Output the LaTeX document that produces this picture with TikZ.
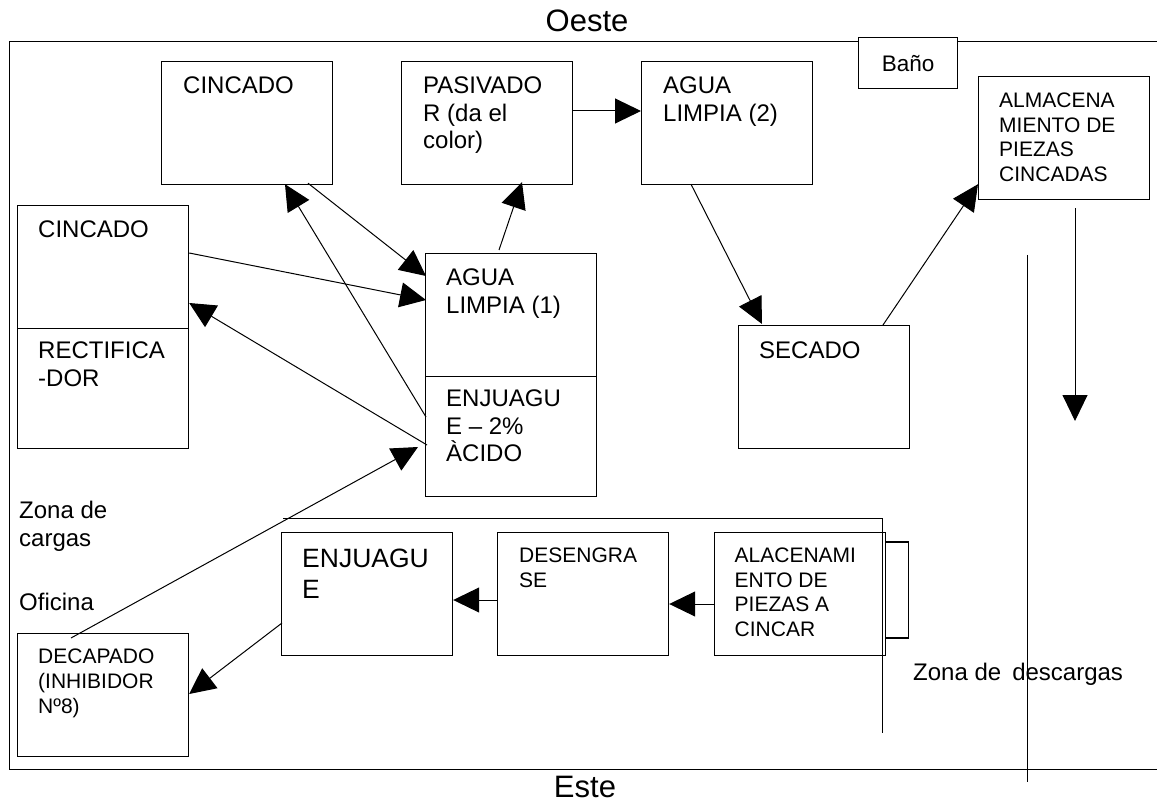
\documentclass[tikz,border=0pt]{standalone}
\usepackage{fontspec}
\setmainfont{Liberation Sans}
\usetikzlibrary{arrows.meta,calc}
\tikzset{
  box/.style={draw, line width=1.2pt, anchor=north west, inner sep=0pt, minimum width=171pt, minimum height=123pt},
  txt/.style={anchor=north west, inner sep=0pt, align=left, font=\fontsize{24}{27.5}\selectfont},
  smalltxt/.style={txt, font=\fontsize{21}{24.5}\selectfont},
  bigtxt/.style={txt, font=\fontsize{26.5}{30.5}\selectfont},
  titletxt/.style={anchor=base, inner sep=0pt, font=\fontsize{31}{35}\selectfont},
  arr/.style={line width=1pt, -{Triangle[length=26pt,width=25pt]}},
  wall/.style={line width=1pt}
}
\begin{document}
\begin{tikzpicture}[x=1pt,y=-1pt]
\useasboundingbox (0,0) rectangle (1157,805);
% frame
\draw[line width=1.2pt] (1157,41.7) -- (9.6,41.7) -- (9.6,769.3) -- (1157,769.3);
\node[titletxt] (oeste) at (587,32) {Oeste};
\node[titletxt] (este) at (585,797.5) {Este};
% boxes
\node[box] (cincTop) at (161,61) {};
\node[box] (pasiv) at (401,61) {};
\node[box] (agua2) at (641,61) {};
\node[box, fill=white, minimum width=99pt, minimum height=51pt] (bano) at (858,37) {};
\node[box] (almac) at (978,76) {};
\node[box] (cincL) at (17,205) {};
\node[box, minimum height=120pt] (rect) at (17,328) {};
\node[box] (agua1) at (425,253) {};
\node[box, minimum height=120pt] (enj) at (425,376) {};
\node[box] (secado) at (738,325) {};
\node[box] (enjB) at (281,532) {};
\node[box] (deseng) at (497,532) {};
\node[box] (alacen) at (714,532) {};
\node[box] (decap) at (17,633) {};
% texts
\node[txt] (tCincTop) at ($(cincTop.north west)+(22,16)$) {CINCADO};
\node[txt] (tPasiv) at ($(pasiv.north west)+(22,16)$) {PASIVADO\\R (da el\\color)};
\node[txt] (tAgua2) at ($(agua2.north west)+(22,16)$) {AGUA\\LIMPIA (2)};
\node[inner sep=0pt, font=\fontsize{22.5}{26}\selectfont] (tBano) at (bano.center) {Baño};
\node[smalltxt] (tAlmac) at ($(almac.north west)+(21,17)$) {ALMACENA\\MIENTO DE\\PIEZAS\\CINCADAS};
\node[txt] (tCincL) at ($(cincL.north west)+(21,16)$) {CINCADO};
\node[txt] (tRect) at ($(rect.north west)+(21,14)$) {RECTIFICA\\-DOR};
\node[txt] (tAgua1) at ($(agua1.north west)+(21,16)$) {AGUA\\LIMPIA (1)};
\node[txt] (tEnj) at ($(enj.north west)+(21,14)$) {ENJUAGU\\E – 2\%\\ÀCIDO};
\node[txt] (tSecado) at ($(secado.north west)+(21,17)$) {SECADO};
\node[bigtxt] (tEnjB) at ($(enjB.north west)+(21,17)$) {ENJUAGU\\E};
\node[smalltxt] (tDeseng) at ($(deseng.north west)+(22,16)$) {DESENGRA\\SE};
\node[smalltxt] (tAlacen) at ($(alacen.north west)+(20.5,16)$) {ALACENAMI\\ENTO DE\\PIEZAS A\\CINCAR};
\node[smalltxt, font=\fontsize{21}{25}\selectfont] (tDecap) at ($(decap.north west)+(21,16)$) {DECAPADO\\(INHIBIDOR\\Nº8)};
\node[txt, font=\fontsize{24}{28.3}\selectfont] (tZona) at (19,501) {Zona de\\cargas};
\node[txt] (tOfi) at (19,593) {Oficina};
\node[txt] (tDesc) at (913,663) {Zona de\hspace{11pt}descargas};
% walls
\coordinate (wA) at (283,518);
\coordinate (wB) at (882.4,518);
\coordinate (wC) at (882.4,733);
\draw[wall] (wA) -- (wB) -- (wC);
\coordinate (vA) at (1027,255);
\coordinate (vB) at (1027,782);
\draw[wall] (vA) -- (vB);
\draw[line width=1.2pt] ($(alacen.north east)+(0,10)$) -- ++(22,0) -- ++(0,96) -- ++(-22,0);
% arrows
\draw[arr] ($(cincTop.south west)+(147,-2)$) -- ($(agua1.north west)+(1,23)$);
\draw[arr] ($(cincL.north east)+(0,48)$) -- ($(agua1.north west)+(1,47)$);
\draw[arr] ($(enj.north west)+(1,41)$) -- ($(cincTop.south west)+(124,-1)$);
\draw[arr] ($(enj.north west)+(2,69)$) -- ($(cincL.north east)+(0,98)$);
\draw[arr] ($(agua1.north west)+(74,-3)$) -- ($(pasiv.south west)+(121,-3)$);
\draw[arr] ($(decap.north west)+(54,5)$) -- ($(enj.north west)+(-7,71)$);
\draw[arr] ($(pasiv.north east)+(0,50)$) -- ($(agua2.north west)+(0,50)$);
\draw[arr] ($(agua2.south west)+(50,-1)$) -- ($(secado.north west)+(24,-1)$);
\draw[arr] ($(secado.north west)+(145,0)$) -- ($(almac.south west)+(0,-16)$);
\coordinate (dn) at (1075,421);
\draw[arr] ($(almac.south west)+(97,8)$) -- (dn);
\draw[arr] ($(alacen.north west)+(0,72)$) -- ($(deseng.north east)+(0,72)$);
\draw[arr] ($(deseng.north west)+(0,68)$) -- ($(enjB.north east)+(0,68)$);
\draw[arr] ($(enjB.north west)+(1,91)$) -- ($(decap.north east)+(0,61)$);
\end{tikzpicture}
\end{document}
